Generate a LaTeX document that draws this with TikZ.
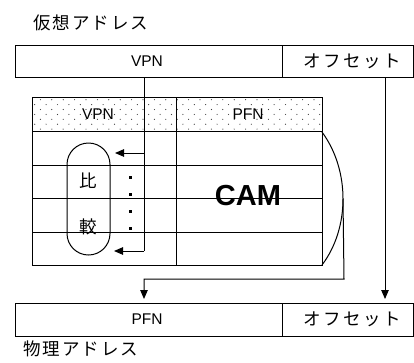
\documentclass[tikz,border=0pt]{standalone}
\usepackage{fontspec}
\setmainfont{Liberation Sans}
\newfontfamily\jpfont{Noto Sans CJK JP}
\usetikzlibrary{arrows.meta}
\begin{document}
\begin{tikzpicture}[x=1pt,y=-1pt,
  cell/.style={draw, line width=1pt, inner sep=0pt, anchor=north west},
  lbl/.style={font=\fontsize{15.5}{15.5}\selectfont, inner sep=0pt},
  jp/.style={font=\jpfont\fontsize{17.5}{17.5}\selectfont, inner sep=0pt},
  ln/.style={line width=1pt},
  arr/.style={line width=1pt, -{Triangle[length=9pt,width=7.5pt]}}]
\useasboundingbox (0,0) rectangle (414,362);
% titles
\node[jp] (vtitle) at (91,23) {仮\hspace{2pt}想\hspace{2pt}ア\hspace{2pt}ド\hspace{2pt}レ\hspace{2pt}ス};
\node[jp] (ptitle) at (81,349) {物\hspace{2pt}理\hspace{2pt}ア\hspace{2pt}ド\hspace{2pt}レ\hspace{2pt}ス};
% virtual address
\node[cell, minimum width=267pt, minimum height=32pt] (vpn) at (15,45) {};
\node[lbl] (vpnt) at (147,61) {VPN};
\node[cell, minimum width=130.5pt, minimum height=32pt] (off) at (282,45) {};
\node[jp] (offt) at (352,61) {オ\hspace{2.5pt}フ\hspace{2.5pt}セ\hspace{2.5pt}ッ\hspace{2.5pt}ト};
% header dots
\begin{scope}
\clip (32,97) rectangle (322,131);
\foreach \r in {0,...,6}{
  \foreach \c in {0,...,26}{
    \pgfmathsetmacro{\xx}{34.7+11.4*\c+5.7*mod(\r+1,2)}
    \pgfmathsetmacro{\yy}{99.7+4.9*\r}
    \fill[black!75] (\xx,\yy) circle (0.6pt);
  }
}
\end{scope}
% table header
\node[cell, minimum width=144pt, minimum height=34pt] (hv) at (32,97) {};
\node[lbl] (hvt) at (98,114) {VPN};
\node[cell, minimum width=146pt, minimum height=34pt] (hp) at (176,97) {};
\node[lbl] (hpt) at (248,114) {PFN};
% CAM text
\node[font=\bfseries\fontsize{29}{29}\selectfont, inner sep=0pt] (cam) at (248,196) {CAM};
% rows
\foreach \i in {0,1,2,3}{
  \node[cell, minimum width=144pt, minimum height=33.5pt] (l\i) at (32,131+33.5*\i) {};
  \node[cell, minimum width=146pt, minimum height=33.5pt] (r\i) at (176,131+33.5*\i) {};
}
% comparator capsule
\node[draw, line width=1pt, rounded corners=21.5pt, minimum width=43pt, minimum height=112pt, inner sep=0pt] (cmp) at (88.5,199) {};
\node[jp] (hi) at (88,181) {比};
\node[jp] (kaku) at (88,227) {較};
% dots
\foreach \yy in {177,194,211,228}{
  \fill (128.5,\yy-1.5) rectangle ++(3,3);
}
% VPN lookup lines
\coordinate (vs) at (144,77);
\coordinate (vb) at (144,251);
\coordinate (vm) at (144,153);
\coordinate (ta) at (115,153);
\coordinate (tb) at (114,251);
\draw[ln] (vs) -- (vb);
\draw[arr] (vb) -- (tb);
\draw[arr] (vm) -- (ta);
% bracket arc
\coordinate (ab) at (322,132);
\coordinate (ae) at (322,265);
\coordinate (ap) at (343,198.5);
\draw[ln] (ab) .. controls (350,170) and (350,228) .. (ae);
% physical address
\node[cell, minimum width=267pt, minimum height=33pt] (pfn) at (15,303) {};
\node[lbl] (pfnt) at (147,319.5) {PFN};
\node[cell, minimum width=130.5pt, minimum height=33pt] (off2) at (282,303) {};
\node[jp] (off2t) at (352,319.5) {オ\hspace{2.5pt}フ\hspace{2.5pt}セ\hspace{2.5pt}ッ\hspace{2.5pt}ト};
% arrows to physical address
\coordinate (c1) at (344,279);
\coordinate (c2) at (144,279);
\coordinate (pf) at (144,299);
\draw[arr] (ap) -- (c1) -- (c2) -- (pf);
\coordinate (os) at (385,77);
\coordinate (oe) at (385,299);
\draw[arr] (os) -- (oe);
\end{tikzpicture}
\end{document}
